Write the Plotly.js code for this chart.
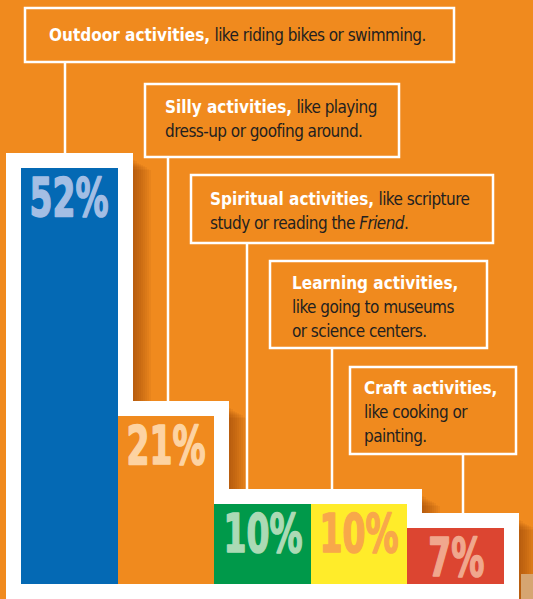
<!DOCTYPE html>
<html>
<head>
<meta charset="utf-8">
<script src="https://cdn.plot.ly/plotly-3.0.1.min.js"></script>
<style>html,body{margin:0;padding:0;background:#F08A1E;}#chart{width:533px;height:599px;}</style>
</head>
<body>
<div id="chart"></div>
<script>
// ---- data ----
var categories = ['Outdoor', 'Silly', 'Spiritual', 'Learning', 'Craft'];
var values = [52, 21, 10, 10, 7];
var valueLabels = ['52%', '21%', '10%', '10%', '7%'];
var titles = ['Outdoor activities,', 'Silly activities,', 'Spiritual activities,', 'Learning activities,', 'Craft activities,'];
var descriptions = [
  ' like riding bikes or swimming.',
  ' like playing<br>dress-up or goofing around.',
  ' like scripture<br>study or reading the <i>Friend</i>.',
  '<br>like going to museums<br>or science centers.',
  '<br>like cooking or<br>painting.'
];

// ---- styles ----
var BG = '#F08A1E';
var barColors = ['#0469B4', '#F08A1E', '#00994A', '#FFEC2A', '#DC4531'];
var labelColors = ['#A3BEE4', '#FDD3A2', '#ABDAB5', '#F8A84A', '#F0A78D'];
var FONT = '"DejaVu Sans Condensed", "DejaVu Sans", sans-serif';

// pixel geometry helpers (layout only)
var W = 533, H = 599;
var U = 96.6;                 // px per category
var X0 = -0.5 - 21 / U;       // category value at left edge
var PXY = 8;                  // px per percent
var BASEPX = 584;             // px of zero line
function px2x(px) { return X0 + px / U; }
function py2y(py) { return (BASEPX - py) / PXY; }
var PAD = 15 / PXY;           // white frame thickness in value units
var FRAMEW = 1 + 30 / U;

var traces = [];
// soft shadows to the right of the white frame
for (var k = 1; k <= 9; k++) {
  var dx = k * 2, dy = 6 + k * 1.2;
  traces.push({
    type: 'bar', x: categories,
    y: values.map(function (v) { return v + PAD + 3 - dy / PXY; }),
    base: -3, width: FRAMEW, offset: -FRAMEW / 2 + dx / U,
    marker: { color: 'rgba(110,40,0,0.055)', line: { width: 0 } },
    hoverinfo: 'skip', showlegend: false
  });
}
// white frames
traces.push({
  type: 'bar', x: categories,
  y: values.map(function (v) { return v + PAD + 3; }),
  base: -3, width: FRAMEW,
  marker: { color: '#FFFFFF', line: { width: 0 } },
  hoverinfo: 'skip', showlegend: false
});
// colored bars
traces.push({
  type: 'bar', x: categories, y: values, width: 1,
  marker: { color: barColors, line: { width: 0 } },
  hoverinfo: 'skip', showlegend: false
});

// annotation boxes (pixel positions)
var boxes = [
  { x0: 25, y0: 8, x1: 454, y1: 62, cx: 65, tx: 48, ty: 35 },
  { x0: 145, y0: 84, x1: 399, y1: 157, cx: 168, tx: 164, ty: 118.5 },
  { x0: 191, y0: 175, x1: 493, y1: 243, cx: 247, tx: 209, ty: 210.5 },
  { x0: 270, y0: 261, x1: 487, y1: 348, cx: 332, tx: 291, ty: 306 },
  { x0: 350, y0: 367, x1: 516, y1: 454, cx: 463, tx: 363, ty: 411 }
];

var shapes = [];
var annotations = [];
boxes.forEach(function (b, i) {
  shapes.push({
    type: 'rect', xref: 'paper', yref: 'paper',
    x0: b.x0 / W, x1: b.x1 / W, y0: 1 - b.y0 / H, y1: 1 - b.y1 / H,
    line: { color: '#FFFFFF', width: 2.5 }, fillcolor: 'rgba(0,0,0,0)', layer: 'above'
  });
  shapes.push({
    type: 'line', xref: 'x', yref: 'y',
    x0: px2x(b.cx), x1: px2x(b.cx), y0: py2y(b.y1 + 1), y1: values[i] + PAD,
    line: { color: '#FFFFFF', width: 2.5 }, layer: 'above'
  });
  annotations.push({
    xref: 'paper', yref: 'paper', x: b.tx / W, y: 1 - b.ty / H,
    xanchor: 'left', yanchor: 'middle', align: 'left', showarrow: false,
    borderpad: 0,
    text: '<b><span style="color:#FFFFFF">' + titles[i] + '</span></b>' +
          '<span style="letter-spacing:-0.6px">' + descriptions[i] + '</span>',
    font: { family: FONT, size: 18.5, color: '#231F20' }
  });
});
// value labels
categories.forEach(function (c, i) {
  annotations.push({
    xref: 'x', yref: 'y', x: c, y: values[i], yanchor: 'top', xanchor: 'center',
    yshift: 3, showarrow: false, borderpad: 0,
    text: '<b>' + valueLabels[i] + '</b>',
    font: { family: FONT, size: 54, color: labelColors[i] }
  });
});
// photo corner bottom right
shapes.push({
  type: 'rect', xref: 'paper', yref: 'paper', x0: 521 / W, x1: 1, y0: 0, y1: 1 - 574 / H,
  line: { width: 0 }, fillcolor: '#D6A571', layer: 'above'
});

var layout = {
  width: W, height: H,
  margin: { l: 0, r: 0, t: 0, b: 0, pad: 0 },
  paper_bgcolor: BG, plot_bgcolor: BG,
  barmode: 'overlay', bargap: 0,
  xaxis: { type: 'category', range: [X0, X0 + W / U], visible: false, fixedrange: true },
  yaxis: { range: [-(H - BASEPX) / PXY, BASEPX / PXY], visible: false, fixedrange: true },
  shapes: shapes, annotations: annotations, showlegend: false
};

// condense text horizontally (the reference uses a condensed typeface)
function condense(gd) {
  var nBox = boxes.length;
  gd.querySelectorAll('g.annotation').forEach(function (g) {
    var idx = +g.getAttribute('data-index');
    var t = g.querySelector('text.annotation-text');
    if (!t) return;
    var bb = t.getBBox();
    var isLabel = idx >= nBox;
    var sx = isLabel ? 0.68 : 0.92;
    var cx = isLabel ? bb.x + bb.width / 2 : bb.x;
    var prev = t.getAttribute('transform') || '';
    t.setAttribute('transform', prev + ' translate(' + cx + ',0) scale(' + sx + ',1) translate(' + (-cx) + ',0)');
    if (isLabel) {
      t.style.stroke = labelColors[idx - nBox];
      t.style.strokeWidth = '1.6px';
      t.style.strokeLinejoin = 'round';
    }
  });
}
Plotly.newPlot('chart', traces, layout, { displayModeBar: false, staticPlot: true })
  .then(function (gd) { condense(gd); });
</script>
</body>
</html>
